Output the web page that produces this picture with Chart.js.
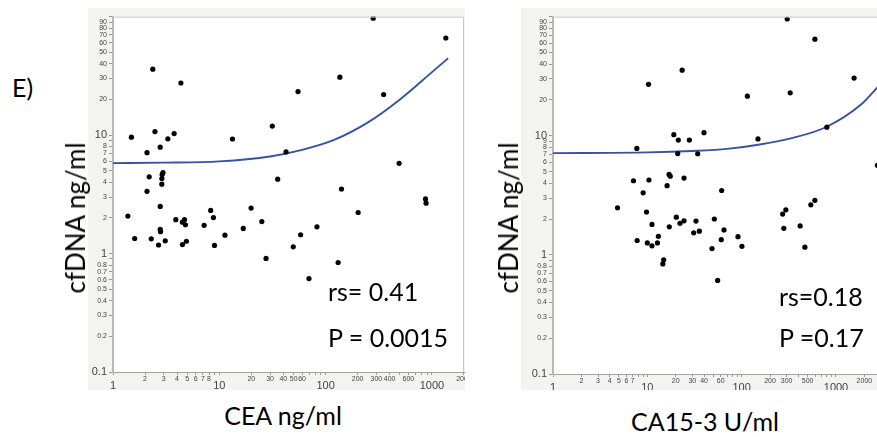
<!DOCTYPE html>
<html>
<head>
<meta charset="utf-8">
<script src="https://cdn.jsdelivr.net/npm/chart.js@4"></script>
<style>
  body { margin: 0; width: 877px; height: 437px; background: #fff; position: relative; overflow: hidden; font-family: Lato, sans-serif; }
  .panel { position: absolute; top: 8px; height: 382px; overflow: hidden; background: #f3f3ef; }
  .panel canvas { position: absolute; left: 0; top: 0; }
  .txt { position: absolute; white-space: nowrap; line-height: 1; color: #000; }
  .ylab { position: absolute; white-space: nowrap; line-height: 1; font-size: 26px; color: #000; transform: translate(-50%, -50%) rotate(-90deg); }
</style>
</head>
<body>
<div class="panel" id="leftPanel" style="left:88px; width:377px;"><canvas id="chart1" width="440" height="382"></canvas></div>
<div class="panel" id="rightPanel" style="left:521px; width:356px;"><canvas id="chart2" width="420" height="382"></canvas></div>

<div class="txt" style="left:12px; top:75px; font-size:25px;">E)</div>
<div class="ylab" style="left:75px; top:218px;">cfDNA ng/ml</div>
<div class="ylab" style="left:508px; top:218px;">cfDNA ng/ml</div>
<div class="txt" style="left:283px; top:403px; font-size:25px; transform:translateX(-50%);">CEA ng/ml</div>
<div class="txt" style="left:705px; top:409px; font-size:25px; transform:translateX(-50%);">CA15-3 U/ml</div>
<div class="txt" style="left:328px; top:279px; font-size:25px;">rs= 0.41</div>
<div class="txt" style="left:328px; top:325px; font-size:25px;">P = 0.0015</div>
<div class="txt" style="left:779px; top:284px; font-size:25px;">rs=0.18</div>
<div class="txt" style="left:779px; top:325px; font-size:25px;">P =0.17</div>

<script>
// left panel: CEA vs cfDNA
const leftCEA = [1.38, 1.49, 2.37, 4.35, 2.48, 3.76, 3.28, 2.09, 2.78, 2.19, 2.95, 2.9, 2.88, 2.88, 2.09, 2.78,
    13.3, 31.5, 42.4, 35.4, 55, 136, 141, 351, 491, 202, 869, 880, 1350, 280, 8.3, 19.9, 1.6, 2.29, 2.68, 2.78,
    2.8, 3.1, 3.9, 4.5, 4.7, 4.8, 4.5, 4.9, 7.2, 8.8, 9.0, 11.3, 16.8, 25.1, 27.5, 49.6, 58.2, 82.8, 69.7, 131];
const leftCfDNA = [2.07, 9.6, 36, 27.5, 10.7, 10.3, 9.3, 7.1, 7.9, 4.44, 4.82, 4.64, 4.3, 3.85, 3.35, 2.5,
    9.26, 11.9, 7.2, 4.24, 23.3, 30.8, 3.5, 22, 5.77, 2.22, 2.89, 2.66, 66, 97, 2.31, 2.42, 1.34, 1.33, 1.18, 1.6,
    1.53, 1.28, 1.93, 1.84, 1.93, 1.75, 1.19, 1.27, 1.73, 2.01, 1.17, 1.43, 1.63, 1.86, 0.91, 1.14, 1.44, 1.68, 0.615, 0.84];
const leftFitX = [1, 3, 10, 30, 60, 120, 250, 500, 1000, 1420];
const leftFitY = [5.8, 5.85, 6.0, 6.6, 7.5, 9.1, 12.8, 20, 34, 44.5];

// right panel: CA15-3 vs cfDNA
const rightCA153 = [4.83, 7.13, 7.74, 9.03, 10.3, 10.4, 9.8, 16.2, 17.0, 17.5, 19.1, 21.3, 21.0, 23.4, 24.5, 27.9,
    34.2, 39.9, 61.4, 115, 149, 304, 327, 597, 800, 1555, 272, 294, 541, 597, 2750, 20.3, 24.5, 32.8, 51.3, 11.2,
    7.8, 10.0, 11.2, 12.8, 13.1, 14.9, 14.6, 17.1, 22.2, 31, 35.6, 48.5, 55.7, 60.8, 65, 91.4, 100.7, 280, 417, 468];
const rightCfDNA = [2.48, 4.19, 7.83, 3.32, 27.0, 4.25, 2.29, 3.81, 4.73, 4.58, 10.2, 9.2, 7.08, 35.5, 4.41, 9.2,
    7.06, 10.6, 3.47, 21.5, 9.4, 95.5, 22.9, 64.7, 11.8, 30.5, 2.2, 2.39, 2.63, 2.87, 5.64, 2.07, 1.93, 1.92, 2.0, 1.8,
    1.32, 1.26, 1.19, 1.26, 1.43, 0.91, 0.84, 1.72, 1.84, 1.53, 1.58, 1.13, 0.61, 1.34, 1.62, 1.42, 1.18, 1.67, 1.75, 1.16];
const rightFitX = [1, 10, 30, 70, 150, 350, 800, 1800, 3000];
const rightFitY = [7.15, 7.25, 7.45, 7.75, 8.4, 9.6, 11.9, 18, 27.5];

// tick marks and their labels ('' = tick without label)
const leftXTicks = [1, 2, 3, 4, 5, 6, 7, 8, 9, 10, 20, 30, 40, 50, 60, 70, 80, 90, 100, 200, 300, 400, 500, 600, 700, 800, 900, 1000, 2000];
const leftXLabels = ['1', '2', '3', '4', '5', '6', '7', '8', '', '10', '20', '30', '40', '50', '60', '', '', '', '100', '200', '300', '400', '', '600', '', '', '', '1000', '2000'];
const rightXTicks = [1, 2, 3, 4, 5, 6, 7, 8, 9, 10, 20, 30, 40, 50, 60, 70, 80, 90, 100, 200, 300, 400, 500, 600, 700, 800, 900, 1000, 2000];
const rightXLabels = ['1', '2', '3', '4', '5', '6', '7', '', '', '10', '20', '30', '40', '', '60', '', '', '', '100', '200', '300', '', '500', '', '', '', '', '1000', '2000'];
const yTicks = [0.1, 0.2, 0.3, 0.4, 0.5, 0.6, 0.7, 0.8, 0.9, 1, 2, 3, 4, 5, 6, 7, 8, 9, 10, 20, 30, 40, 50, 60, 70, 80, 90, 100];
const leftYLabels = ['0.1', '0.2', '0.3', '0.4', '0.5', '0.6', '0.7', '0.8', '', '1', '2', '3', '4', '5', '6', '7', '8', '', '10', '20', '30', '40', '50', '60', '70', '80', '90', ''];
const rightYLabels = ['0.1', '0.2', '0.3', '0.4', '0.5', '0.6', '0.7', '0.8', '', '1', '2', '3', '4', '5', '6', '7', '8', '9', '10', '20', '30', '40', '50', '60', '70', '80', '90', ''];

const majors = [0.1, 1, 10, 100, 1000];

const plotFrame = {
    id: 'plotFrame',
    beforeDraw(chart) {
        const a = chart.chartArea, ctx = chart.ctx;
        ctx.save();
        ctx.fillStyle = '#fff';
        ctx.fillRect(a.left, a.top, a.right - a.left, a.bottom - a.top);
        ctx.restore();
    },
    afterDraw(chart) {
        const a = chart.chartArea, ctx = chart.ctx;
        ctx.save();
        ctx.strokeStyle = '#c9c9c9';
        ctx.lineWidth = 1;
        ctx.beginPath();
        ctx.moveTo(a.left, a.top + 0.5);
        ctx.lineTo(a.right - 0.5, a.top + 0.5);
        ctx.lineTo(a.right - 0.5, a.bottom);
        ctx.stroke();
        ctx.restore();
    }
};

function makeChart(id, xs, ys, fitX, fitY, xMax, xTicks, xLabels, yLabels, yWidth, xHeight, padTop, padRight) {
    const points = xs.map((v, i) => ({ x: v, y: ys[i] }));
    const fit = fitX.map((v, i) => ({ x: v, y: fitY[i] }));
    return new Chart(document.getElementById(id), {
        type: 'scatter',
        data: {
            datasets: [{
                data: points,
                backgroundColor: '#000',
                borderColor: '#000',
                pointRadius: 2.6,
                pointBorderWidth: 0
            }, {
                type: 'line',
                data: fit,
                borderColor: '#3552a6',
                borderWidth: 1.9,
                pointRadius: 0,
                fill: false,
                cubicInterpolationMode: 'monotone'
            }]
        },
        options: {
            responsive: false,
            animation: false,
            devicePixelRatio: 1,
            layout: { padding: { top: padTop, right: padRight, left: 0, bottom: 0 } },
            plugins: { legend: { display: false }, tooltip: { enabled: false } },
            scales: {
                x: {
                    type: 'logarithmic',
                    min: 1,
                    max: xMax,
                    afterBuildTicks: s => { s.ticks = xTicks.map(v => ({ value: v })); },
                    afterFit: s => { s.height = xHeight; },
                    ticks: {
                        autoSkip: false,
                        maxRotation: 0,
                        padding: 0,
                        color: '#444',
                        callback: (v, i) => xLabels[i],
                        font: c => majors.includes(xTicks[c.index])
                            ? { family: 'Liberation Sans', size: 11, lineHeight: 2.0 }
                            : { family: 'Liberation Sans', size: 7, lineHeight: 1.25 }
                    },
                    grid: { drawOnChartArea: false, tickLength: 3, color: '#999' },
                    border: { color: '#a0a0a0', width: 1 }
                },
                y: {
                    type: 'logarithmic',
                    min: 0.1,
                    max: 100,
                    afterBuildTicks: s => { s.ticks = yTicks.map(v => ({ value: v })); },
                    afterFit: s => { s.width = yWidth; },
                    ticks: {
                        autoSkip: false,
                        padding: 2,
                        color: '#444',
                        callback: (v, i) => yLabels[i],
                        font: c => majors.includes(yTicks[c.index])
                            ? { family: 'Liberation Sans', size: 11 }
                            : { family: 'Liberation Sans', size: 7 }
                    },
                    grid: { drawOnChartArea: false, tickLength: 4, color: '#999' },
                    border: { color: '#b8b8b8', width: 2 }
                }
            }
        },
        plugins: [plotFrame]
    });
}

makeChart('chart1', leftCEA, leftCfDNA, leftFitX, leftFitY, 2001, leftXTicks, leftXLabels, leftYLabels, 25, 18, 4, 64);
makeChart('chart2', rightCA153, rightCfDNA, rightFitX, rightFitY, 3000, rightXTicks, rightXLabels, rightYLabels, 32, 16, 3, 60);
</script>
</body>
</html>
